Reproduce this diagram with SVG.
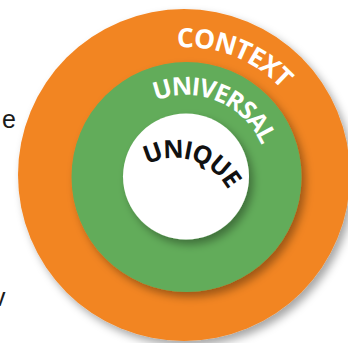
<svg xmlns="http://www.w3.org/2000/svg" xmlns:xlink="http://www.w3.org/1999/xlink" width="348" height="343" viewBox="0 0 348 343">
  <style>
    .ring-label { font-family: "Open Sans", "Noto Sans", "Liberation Sans", sans-serif; font-weight: 700; }
    .light { fill: #ffffff; }
    .dark { fill: #111111; }
    .side { font-family: "Liberation Sans", Arial, sans-serif; font-size: 25px; fill: #1a1a1a; }
  </style>
  <defs>
    <filter id="shadow" x="-20%" y="-20%" width="140%" height="140%">
      <feDropShadow dx="4" dy="5" stdDeviation="4" flood-color="#000" flood-opacity="0.35"/>
    </filter>
    <!-- baselines for the curved labels -->
    <path id="arc-context" d="M106,74.6 A130,130 0 0 1 314.7,158.9"/>
    <path id="arc-universal" d="M133.3,114.2 A82,82 0 0 1 266.8,162.8"/>
    <path id="arc-unique" d="M125.3,184.4 A60,60 0 0 1 234.7,211.7"/>
  </defs>

  <rect width="348" height="343" fill="#ffffff"/>

  <!-- neighbouring text clipped at the left edge -->
  <text class="side" x="2" y="128">e</text>
  <text class="side" x="-7" y="306">v</text>

  <g id="context">
    <circle cx="184" cy="175" r="166" fill="#f28522" filter="url(#shadow)"/>
    <text class="ring-label light" font-size="26.5" letter-spacing="-1">
      <textPath xlink:href="#arc-context" startOffset="135" text-anchor="middle">CONTEXT</textPath>
    </text>
  </g>

  <g id="universal">
    <circle cx="186.5" cy="177" r="115" fill="#62ac5a" filter="url(#shadow)"/>
    <text class="ring-label light" font-size="25" letter-spacing="-1.5">
      <textPath xlink:href="#arc-universal" startOffset="89" text-anchor="middle">UNIVERSAL</textPath>
    </text>
  </g>

  <g id="unique">
    <circle cx="186" cy="176.5" r="63" fill="#ffffff" filter="url(#shadow)"/>
    <text class="ring-label dark" font-size="25" letter-spacing="-1.2">
      <textPath xlink:href="#arc-unique" startOffset="76" text-anchor="middle">UNIQUE</textPath>
    </text>
  </g>
</svg>
